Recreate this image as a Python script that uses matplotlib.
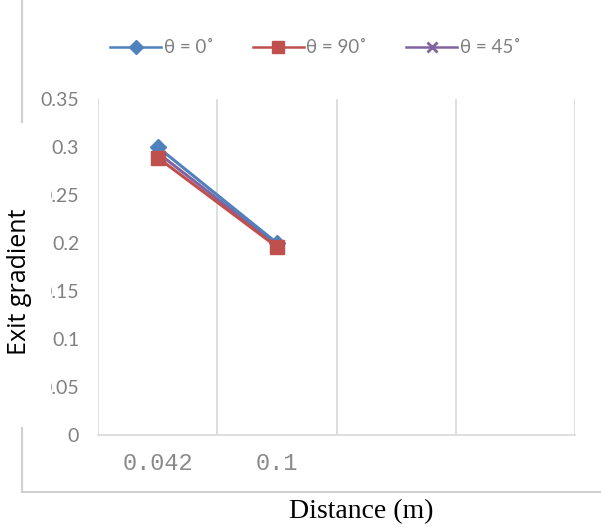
import matplotlib.pyplot as plt
from matplotlib.lines import Line2D
from matplotlib.patches import Rectangle
import numpy as np

# categories on the x axis (the last two slots are empty)
distance = ['0.042', '0.1', '', '']
theta_0 = [0.3, 0.2]
theta_90 = [0.289, 0.196]
theta_45 = [0.294, 0.198]
y_ticks = [0, 0.05, 0.1, 0.15, 0.2, 0.25, 0.3, 0.35]
y_labels = ['0', '0.05', '0.1', '0.15', '0.2', '0.25', '0.3', '0.35']

W, H = 601, 527
fig = plt.figure(figsize=(W / 100, H / 100), dpi=100)
ax = fig.add_axes([98 / W, 92 / H, 477 / W, 336 / H])

x = np.arange(len(distance))
ax.plot(x[:2], theta_0, color='#4F81BD', lw=2.2, marker='D', ms=8, label='θ = 0˚', zorder=3)
ax.plot(x[:2], theta_90, color='#C0504D', lw=2.2, marker='s', ms=10.5, label='θ = 90˚', zorder=4)
ax.plot(x[:2], theta_45, color='#8064A2', lw=2.2, marker='x', ms=7, mew=2, label='θ = 45˚', zorder=2)

ax.set_xlim(-0.5, len(distance) - 0.5)
ax.set_ylim(0, 0.35)
ax.set_xticks(x)
ax.set_xticklabels(distance, family='Liberation Mono', fontsize=17, color='#8a8a8a')
ax.set_xticks(np.arange(-0.5, len(distance)), minor=True)
ax.grid(True, which='minor', axis='x', color='#d9d9d9', lw=1.2)
ax.set_yticks(y_ticks)
ax.set_yticklabels(y_labels, family='Lato', fontsize=14, color='#808080')
ax.tick_params(which='both', length=0)
ax.tick_params(axis='y', pad=13.5)
ax.tick_params(axis='x', pad=12)
for s in ['top', 'right', 'left']:
    ax.spines[s].set_visible(False)
ax.spines['bottom'].set_color('#d9d9d9')
ax.spines['bottom'].set_linewidth(1.2)

leg = ax.legend(loc='center', bbox_to_anchor=(0.456, 1.152), ncol=3, frameon=False,
                handlelength=2.7, columnspacing=2.1, handletextpad=0.15,
                prop={'family': 'Lato', 'size': 13.5})
for t in leg.get_texts():
    t.set_color('#808080')
for h, ms in zip(leg.legend_handles, [7, 9, 7]):
    h.set_markersize(ms)
    h.set_linewidth(1.8)

# chart border
fig.add_artist(Line2D([22 / W, 22 / W], [35 / H, 1], color='#d0d0d0', lw=1.5))
fig.add_artist(Line2D([22 / W, 1], [35 / H, 35 / H], color='#d0d0d0', lw=1.5))

# axis title box on the left
fig.add_artist(Rectangle((0, 100 / H), 51 / W, 304 / H, facecolor='white',
                         edgecolor='none', transform=fig.transFigure, zorder=5))
fig.text(20 / W, 1 - 282 / H, 'Exit gradient', rotation=90, ha='center', va='center',
         family='Open Sans', fontsize=18, color='black', zorder=6)
fig.text(361 / W, 1 - 512 / H, 'Distance (m)', ha='center', va='center',
         family='Liberation Serif', fontsize=20, color='black')

fig.savefig('out.png', dpi=100, facecolor='white')
